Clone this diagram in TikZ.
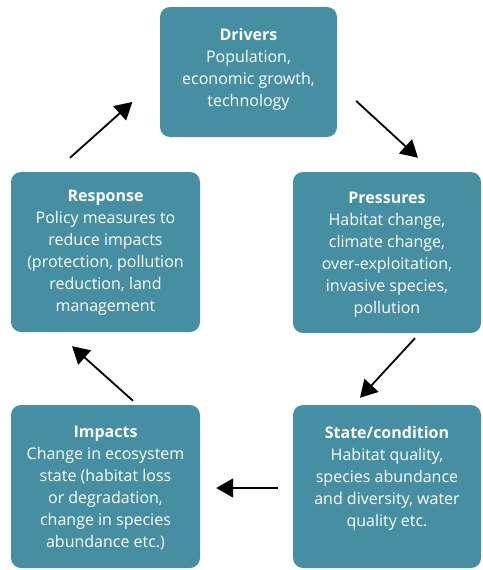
\documentclass[tikz,border=0pt]{standalone}
\usepackage{fontspec}
\setmainfont{Open Sans}
\usetikzlibrary{arrows.meta,calc}
\definecolor{teal1}{HTML}{468FA3}
\tikzset{
  box/.style={draw=none,fill=teal1,rounded corners=10pt,inner sep=0pt},
  boxtext/.style={anchor=north,inner sep=0pt,align=center,text=white,font=\fontsize{16}{22}\selectfont},
  conn/.style={line width=1.8pt,-{Triangle[length=17pt,width=19pt]}}
}
\begin{document}
\begin{tikzpicture}[x=1pt,y=-1pt]
\useasboundingbox (0,0) rectangle (482,570);
% boxes
\node[box,minimum width=177pt,minimum height=130pt] (drv) at (248.5,72) {};
\node[box,minimum width=188pt,minimum height=161pt] (prs) at (387,252.5) {};
\node[box,minimum width=188pt,minimum height=163pt] (sta) at (387,486.5) {};
\node[box,minimum width=189pt,minimum height=163pt] (imp) at (105.5,486.5) {};
\node[box,minimum width=189pt,minimum height=160pt] (rsp) at (105.5,252) {};
% texts
\node[boxtext] (tdrv) at ($(drv.north)+(0,21)$) {\textbf{Drivers}\\Population,\\economic growth,\\technology};
\node[boxtext] (tprs) at ($(prs.north)+(0,20)$) {\textbf{Pressures}\\Habitat change,\\climate change,\\over-exploitation,\\invasive species,\\pollution};
\node[boxtext] (tsta) at ($(sta.north)+(0,21)$) {\textbf{State/condition}\\Habitat quality,\\species abundance\\and diversity, water\\quality etc.};
\node[boxtext] (timp) at ($(imp.north)+(0,21)$) {\textbf{Impacts}\\Change in ecosystem\\state (habitat loss\\or degradation,\\change in species\\abundance etc.)};
\node[boxtext] (trsp) at ($(rsp.north)+(0,18)$) {\textbf{Response}\\Policy measures to\\reduce impacts\\(protection, pollution\\reduction, land\\management};
% arrow end points
\coordinate (a1s) at ($(drv.east)+(19,29)$);
\coordinate (a1e) at ($(prs.north)+(31,-14)$);
\coordinate (a2s) at ($(prs.south)+(28,5)$);
\coordinate (a2e) at ($(sta.north)+(-27,-7)$);
\coordinate (a3s) at ($(sta.west)+(-15,1.5)$);
\coordinate (a3e) at ($(imp.east)+(16,1.5)$);
\coordinate (a4s) at ($(imp.north)+(27.5,-4)$);
\coordinate (a4e) at ($(rsp.south)+(-33.5,14)$);
\coordinate (a5s) at ($(rsp.north)+(-35.5,-14)$);
\coordinate (a5e) at ($(drv.west)+(-27.5,30)$);
\draw[conn] (a1s) -- (a1e);
\draw[conn] (a2s) -- (a2e);
\draw[conn] (a3s) -- (a3e);
\draw[conn] (a4s) -- (a4e);
\draw[conn] (a5s) -- (a5e);
\end{tikzpicture}
\end{document}
